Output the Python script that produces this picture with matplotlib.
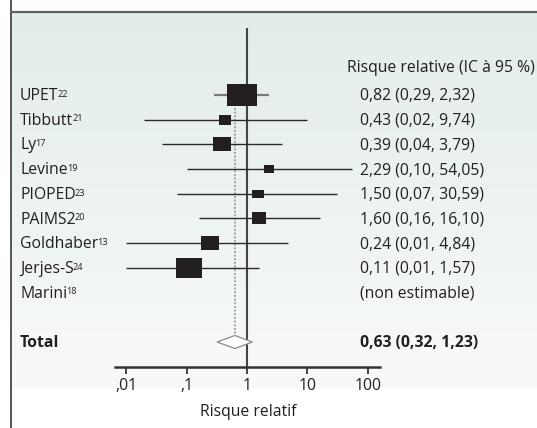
import numpy as np
import matplotlib
matplotlib.use('Agg')
import matplotlib.pyplot as plt
from matplotlib.path import Path
from matplotlib.lines import Line2D
import matplotlib.transforms as mtrans

# ---------------- data ----------------
studies = ['UPET', 'Tibbutt', 'Ly', 'Levine', 'PIOPED', 'PAIMS2', 'Goldhaber', 'Jerjes-S', 'Marini']
refs = ['22', '21', '17', '19', '23', '20', '13', '24', '18']
rr = [0.82, 0.43, 0.39, 2.29, 1.50, 1.60, 0.24, 0.11, np.nan]
ci_low = [0.29, 0.02, 0.04, 0.10, 0.07, 0.16, 0.01, 0.01, np.nan]
ci_high = [2.32, 9.74, 3.79, 54.05, 30.59, 16.10, 4.84, 1.57, np.nan]
weights = [30.9, 5.5, 12.6, 3.7, 4.4, 8.0, 11.4, 23.4, 0.0]
value_labels = ['0,82 (0,29, 2,32)', '0,43 (0,02, 9,74)', '0,39 (0,04, 3,79)',
                '2,29 (0,10, 54,05)', '1,50 (0,07, 30,59)', '1,60 (0,16, 16,10)',
                '0,24 (0,01, 4,84)', '0,11 (0,01, 1,57)', '(non estimable)']
total_name = 'Total'
total_rr = 0.63
total_low = 0.32
total_high = 1.23
total_label = '0,63 (0,32, 1,23)'
header = 'Risque relative (IC à 95 %)'
xlabel = 'Risque relatif'
tick_values = [0.01, 0.1, 1, 10, 100]
tick_labels = [',01', ',1', '1', '10', '100']

# ---------------- style ----------------
FONT = 'Open Sans'
plt.rcParams['font.family'] = [FONT, 'DejaVu Sans']
FS = 11.3
FS_SUP = 6.6
TXT = '#231f20'

W, H = 537, 428
fig = plt.figure(figsize=(W / 100, H / 100), dpi=100)
fx = lambda px: px / W
fy = lambda py: 1 - py / H

# background gradient panel
bg = fig.add_axes([fx(11), fy(388), 1 - fx(11), (388 - 13) / H], zorder=-10)
grad = np.linspace(0, 1, 256)[:, None]
c_top = np.array([0.886, 0.929, 0.918])
c_bot = np.array([0.972, 0.980, 0.978])
img = c_top[None, None, :] * (1 - grad[..., None]) + c_bot[None, None, :] * grad[..., None]
bg.imshow(img, aspect='auto', extent=[0, 1, 0, 1])
bg.axis('off')

# frame lines
fig.add_artist(Line2D([fx(10.5), fx(10.5)], [0, 1], color='#3a3a3a', lw=1.2))
fig.add_artist(Line2D([fx(10.5), 1], [fy(12), fy(12)], color='#5f6362', lw=1.6))

# main axes
px_dec = 60.5
row0_px, row_px = 95.0, 24.7
ax = fig.add_axes([fx(115), fy(367), (380 - 115) / W, (367 - 28) / H])
ax.patch.set_alpha(0)
ax.set_xscale('log')
ax.set_xlim(10 ** (-2 - 11 / px_dec), 10 ** (2 + 12 / px_dec))
ax.set_ylim((367 - row0_px) / row_px, (28 - row0_px) / row_px)
for s in ['top', 'left', 'right']:
    ax.spines[s].set_visible(False)
ax.spines['bottom'].set_linewidth(1.8)
ax.spines['bottom'].set_color('#333333')
ax.set_yticks([])
ax.set_xticks(tick_values)
ax.set_xticklabels(tick_labels)
ax.minorticks_off()
ax.tick_params(axis='x', direction='out', length=5, width=1.3, color='#333333',
               labelsize=FS, labelcolor=TXT, pad=3.0)

# reference line at 1 and pooled estimate line
ax.axvline(1, color='#444444', lw=1.5, zorder=2)
n = len(studies)
total_row = n + 1
dh = 6.5 / row_px
ax.plot([total_rr, total_rr], [(108 - row0_px) / row_px, total_row - dh],
        color='#8a8a8a', lw=1.1, ls=(0, (1.2, 1.2)), zorder=1)

# rectangle marker (wider than tall)
rect = Path([(-0.635, -0.5), (0.635, -0.5), (0.635, 0.5), (-0.635, 0.5), (-0.635, -0.5)],
            [Path.MOVETO, Path.LINETO, Path.LINETO, Path.LINETO, Path.CLOSEPOLY])
wmax = max(weights)
for i in range(n):
    if np.isnan(rr[i]):
        continue
    col = '#7a7a7a' if i == 0 else '#2a2a2a'
    lw = 1.6 if i == 0 else 1.0
    ax.plot([ci_low[i], ci_high[i]], [i, i], color=col, lw=lw, zorder=3, solid_capstyle='butt')
    h_px = 23 * np.sqrt(weights[i] / wmax)
    ax.plot([rr[i]], [i], marker=rect, markersize=h_px * 1.27 * 0.72,
            color='#231f20', mew=0, zorder=4, ls='none')

# diamond
ax.fill([total_low, total_rr, total_high, total_rr],
        [total_row, total_row - dh, total_row, total_row + dh],
        facecolor='white', edgecolor='#8a8a8a', lw=0.9, zorder=4)

# texts
tr = mtrans.blended_transform_factory(fig.transFigure, ax.transData)
VA = 'baseline'
base_off = 5.0 / row_px  # baseline sits ~5px below the row centre
for i in range(n):
    t = ax.text(fx(20), i + base_off, studies[i], transform=tr, va=VA,
                ha='left', fontsize=FS, color=TXT, clip_on=False)
    ax.annotate(refs[i], xy=(1, 0), xycoords=t, xytext=(-0.6, 5.2),
                textcoords='offset points', fontsize=FS_SUP, color=TXT,
                va='baseline', ha='left', annotation_clip=False)
    ax.text(fx(360), i + base_off, value_labels[i], transform=tr, va=VA, ha='left',
            fontsize=FS, color=TXT, clip_on=False)
ax.text(fx(20), total_row + base_off, total_name, transform=tr, va=VA, ha='left',
        fontsize=FS, color=TXT, fontweight='bold', clip_on=False)
ax.text(fx(360), total_row + base_off, total_label, transform=tr, va=VA, ha='left',
        fontsize=FS, color=TXT, fontweight='bold', clip_on=False)
ax.text(fx(347), (66.7 - row0_px) / row_px + base_off, header, transform=tr, va=VA,
        ha='left', fontsize=FS, color=TXT, clip_on=False)

fig.text(fx(248), fy(412), xlabel, ha='center', va='center', fontsize=FS, color=TXT)

fig.savefig('out.png', dpi=100)
